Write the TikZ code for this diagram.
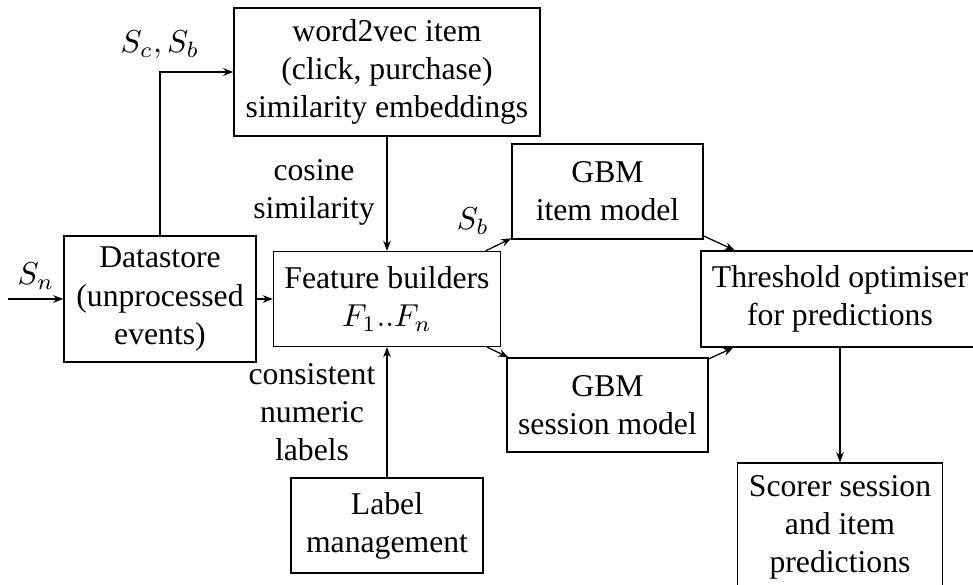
\documentclass[tikz,border=0pt]{standalone}
\usepackage{fontspec}
\setmainfont{Liberation Serif}
\usetikzlibrary{arrows.meta}
\begin{document}
\begin{tikzpicture}[x=0.31552pt, y=-0.31552pt,
  font=\fontsize{10}{12}\selectfont,
  box/.style={draw, line width=0.4pt, align=center, inner sep=0pt},
  link/.style={-{Stealth[length=3.2pt,width=2.4pt]}, line width=0.4pt},
  lbl/.style={align=center, inner sep=0pt}]
\clip (0,0) rectangle (973,585);

% processing stages
\node[box, minimum width=96.55pt, minimum height=40.39pt] (w2v) at (387,72)
  {word2vec item\\(click, purchase)\\similarity embeddings};
\node[box, minimum width=60.58pt, minimum height=39.76pt] (data) at (160,299)
  {Datastore\\(unprocessed\\events)};
\node[box, minimum width=71.62pt, minimum height=29.97pt] (feat) at (387,299)
  {Feature builders\\$F_1..F_n$};
\node[box, minimum width=60.26pt, minimum height=29.97pt] (item) at (607.5,191.5)
  {GBM\\item model};
\node[box, minimum width=63.42pt, minimum height=29.66pt] (sess) at (607.5,405)
  {GBM\\session model};
\node[box, minimum width=87.71pt, minimum height=30.29pt] (thr) at (840,299)
  {Threshold optimiser\\for predictions};
\node[box, minimum width=64.68pt, minimum height=40.39pt] (scorer) at (840,527)
  {Scorer session\\and item\\predictions};
\node[box, minimum width=60.58pt, minimum height=29.97pt] (label) at (387,525.5)
  {Label\\management};

% input stream
\coordinate (in) at (8,299);
\draw[link] (in) -- (data);
\node[lbl] (snlbl) at (36,276) {$S_n$};

% connectors
\draw[link] (data) -- (feat);
\draw[link] (data.north) |- (w2v.west);
\node[lbl] (scblbl) at (160,45) {$S_c, S_b$};
\draw[link] (w2v) -- (feat);
\node[lbl] (coslbl) at (314,192) {cosine\\similarity};
\draw[link] (label) -- (feat);
\node[lbl] (conlbl) at (312,412) {consistent\\numeric\\labels};
\draw[link] (feat) -- (item);
\node[lbl] (sblbl) at (473,221) {$S_b$};
\draw[link] (feat) -- (sess);
\draw[link] (item) -- (thr);
\draw[link] (sess) -- (thr);
\draw[link] (thr) -- (scorer);
\end{tikzpicture}
\end{document}
